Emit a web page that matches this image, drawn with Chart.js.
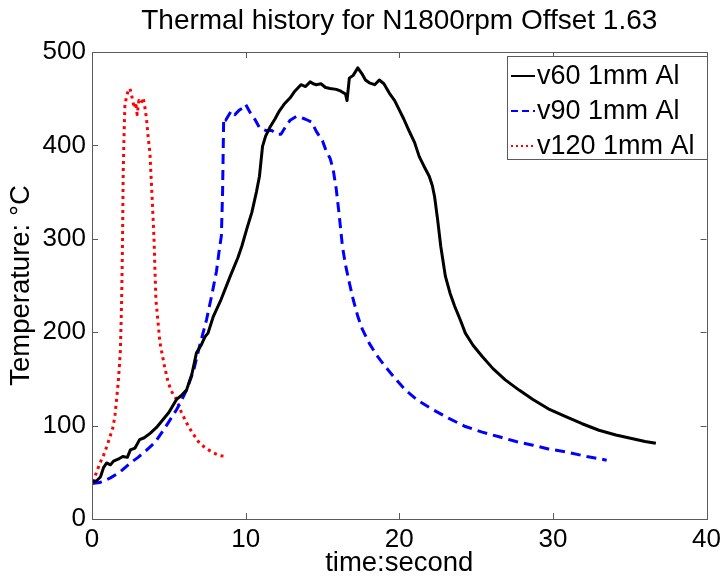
<!DOCTYPE html>
<html>
<head>
<meta charset="utf-8">
<script src="https://cdn.jsdelivr.net/npm/chart.js@4"></script>
<style>
  html, body { margin: 0; padding: 0; background: #fff; }
  #wrap { width: 726px; height: 580px; }
</style>
</head>
<body>
<div id="wrap"><canvas id="grafica" width="726" height="580"></canvas></div>
<script>
// Datos (tiempo en segundos, temperatura en °C)
const tiempoV60 = [0, 0.3, 0.55, 0.75, 0.95, 1.2, 1.4, 1.7, 2.0, 2.3, 2.5, 2.8, 3.1, 3.4, 3.8, 4.2, 4.6, 5.0, 5.5, 5.8, 6.15, 6.5, 6.8, 7.1, 7.35, 7.55, 7.9, 8.4, 9.0, 9.5, 9.75, 10.1, 10.4, 10.7, 10.9, 11.1, 11.3, 11.6, 11.9, 12.2, 12.5, 12.9, 13.2, 13.6, 13.9, 14.2, 14.4, 14.6, 14.9, 15.2, 15.5, 15.9, 16.2, 16.5, 16.6, 16.75, 17.0, 17.3, 17.6, 17.8, 18.05, 18.4, 18.7, 19.0, 19.35, 19.7, 20.0, 20.3, 20.6, 21.0, 21.3, 21.6, 21.95, 22.15, 22.3, 22.5, 22.7, 23.0, 23.3, 23.6, 24.0, 24.3, 24.8, 25.4, 26.1, 26.9, 27.8, 28.7, 29.7, 30.8, 31.9, 33.0, 34.1, 35.2, 36.0, 36.7];
const tempV60 = [40, 41, 45, 55, 60, 58, 62, 64, 67, 66, 74, 76, 85, 87, 92, 98, 106, 114, 128, 132, 138, 155, 178, 186, 195, 199, 217, 235, 260, 280, 292, 312, 328, 350, 367, 399, 410, 420, 428, 437, 444, 451, 458, 465, 463, 468, 466, 465, 466, 462, 461, 460, 458, 455, 448, 472, 475, 483, 476, 470, 467, 465, 470, 466, 456, 448, 438, 428, 417, 403, 388, 378, 367, 357, 345, 320, 292, 260, 242, 228, 212, 199, 186, 174, 161, 149, 138, 128, 118, 110, 102, 95, 90, 86, 83, 81];

const tiempoV90 = [0, 0.5, 1.2, 1.8, 2.5, 3.0, 3.5, 4.1, 4.6, 5.0, 5.5, 5.8, 6.15, 6.6, 7.0, 7.45, 7.8, 8.1, 8.3, 8.42, 8.5, 8.57, 8.7, 9.07, 9.3, 9.6, 9.8, 10.0, 10.3, 10.6, 10.9, 11.3, 11.7, 12.0, 12.3, 12.6, 12.9, 13.3, 13.6, 13.9, 14.3, 14.6, 15.0, 15.2, 15.5, 15.7, 15.9, 16.1, 16.3, 16.5, 16.75, 17.0, 17.3, 17.6, 18.05, 18.5, 19.1, 19.7, 20.4, 21.2, 22.2, 23.2, 24.3, 25.4, 26.5, 27.6, 28.7, 29.7, 30.8, 32.2, 33.5];
const tempV90 = [38, 39, 44, 50, 60, 66, 73, 82, 94, 104, 117, 126, 138, 158, 185, 213, 240, 265, 290, 303, 350, 429, 427, 437, 433, 438, 440, 444, 435, 428, 419, 416, 416, 412, 412, 420, 427, 431, 430, 428, 425, 415, 405, 396, 386, 374, 353, 324, 292, 272, 253, 235, 217, 203, 188, 176, 163, 151, 138, 127, 117, 108, 99, 93, 88, 83, 79, 75, 72, 67, 63];

const tiempoV120 = [0, 0.25, 0.52, 0.75, 0.95, 1.15, 1.38, 1.5, 1.6, 1.7, 1.78, 1.85, 1.93, 1.99, 2.03, 2.1, 2.14, 2.25, 2.35, 2.47, 2.6, 2.75, 2.85, 2.94, 3.05, 3.2, 3.33, 3.45, 3.55, 3.65, 3.77, 3.85, 3.94, 4.03, 4.1, 4.16, 4.3, 4.42, 4.7, 4.96, 5.2, 5.5, 5.8, 6.15, 6.5, 7.0, 7.4, 7.88, 8.3, 8.68];
const tempV120 = [40, 48, 60, 68, 77, 87, 99, 112, 128, 145, 163, 181, 235, 302, 370, 420, 442, 453, 458, 461, 452, 440, 446, 433, 448, 445, 451, 440, 428, 410, 392, 365, 335, 303, 265, 235, 210, 189, 165, 146, 136, 128, 115, 103, 93, 81, 76, 71, 68, 67];

const etiquetas = ['v60 1mm Al', 'v90 1mm Al', 'v120 1mm Al'];
const titulo = 'Thermal history for N1800rpm Offset 1.63';
const fuente = 'Arial, "Liberation Sans", sans-serif';

// Juntar x e y en puntos para el grafico
function puntos(tiempos, temps) {
    return tiempos.map((t, i) => ({ x: t, y: temps[i] }));
}

// Caja, marcas hacia adentro, titulo y leyenda estilo MATLAB
const marcoMatlab = {
    id: 'marcoMatlab',
    afterDraw(chart) {
        const { ctx, chartArea: { left, top, right, bottom }, scales: { x, y } } = chart;
        ctx.save();
        ctx.strokeStyle = '#5a5a5a';
        ctx.lineWidth = 1;
        ctx.strokeRect(Math.round(left) + 0.5, Math.round(top) + 0.5, Math.round(right - left), Math.round(bottom - top));
        ctx.beginPath();
        x.ticks.forEach(t => {
            const px = Math.round(x.getPixelForValue(t.value)) + 0.5;
            ctx.moveTo(px, bottom); ctx.lineTo(px, bottom - 6);
            ctx.moveTo(px, top); ctx.lineTo(px, top + 6);
        });
        y.ticks.forEach(t => {
            const py = Math.round(y.getPixelForValue(t.value)) + 0.5;
            ctx.moveTo(left, py); ctx.lineTo(left + 6, py);
            ctx.moveTo(right, py); ctx.lineTo(right - 6, py);
        });
        ctx.stroke();

        // titulo
        ctx.fillStyle = '#000';
        ctx.font = '28px ' + fuente;
        ctx.textAlign = 'center';
        ctx.textBaseline = 'middle';
        ctx.fillText(titulo, (left + right) / 2, 21);

        // leyenda
        const lx = 507, ly = 56, lw = 200, lh = 103;
        ctx.fillStyle = '#fff';
        ctx.fillRect(lx, ly, lw, lh);
        ctx.strokeStyle = '#5a5a5a';
        ctx.strokeRect(lx + 0.5, ly + 0.5, lw, lh);
        ctx.textAlign = 'left';
        ctx.font = '27px ' + fuente;
        chart.data.datasets.forEach((ds, i) => {
            const fy = ly + 20 + i * 35;
            ctx.strokeStyle = ds.borderColor;
            ctx.lineWidth = 2;
            ctx.setLineDash(ds.borderDash.length ? (i === 2 ? [2, 3] : [7, 4]) : []);
            ctx.beginPath();
            ctx.moveTo(lx + 4, fy); ctx.lineTo(lx + 28, fy);
            ctx.stroke();
            ctx.setLineDash([]);
            ctx.fillStyle = '#000';
            ctx.fillText(ds.label, lx + 30, fy + 1);
        });
        ctx.restore();
    }
};

const ctx = document.getElementById('grafica').getContext('2d');
new Chart(ctx, {
    type: 'scatter',
    data: {
        datasets: [
            { label: etiquetas[0], data: puntos(tiempoV60, tempV60), borderColor: '#000000', borderWidth: 3, borderDash: [] },
            { label: etiquetas[1], data: puntos(tiempoV90, tempV90), borderColor: '#0000ff', borderWidth: 3, borderDash: [10, 6] },
            { label: etiquetas[2], data: puntos(tiempoV120, tempV120), borderColor: '#ff0000', borderWidth: 3, borderDash: [3, 4] }
        ]
    },
    options: {
        responsive: false,
        animation: false,
        showLine: true,
        elements: { point: { radius: 0 }, line: { tension: 0, borderJoinStyle: 'round' } },
        layout: { padding: { top: 52, right: 17, left: 0, bottom: 0 } },
        plugins: { legend: { display: false }, tooltip: { enabled: false } },
        scales: {
            x: {
                type: 'linear', min: 0, max: 40,
                ticks: { stepSize: 10, color: '#000', font: { size: 26, family: fuente }, padding: 5, maxRotation: 0 },
                grid: { display: false, drawTicks: false },
                border: { display: false },
                title: { display: true, text: 'time:second', color: '#000', font: { size: 27.5, family: fuente }, padding: { top: 0, bottom: 0 } },
                afterFit: s => { s.height = 61; }
            },
            y: {
                type: 'linear', min: 0, max: 500,
                ticks: { stepSize: 100, color: '#000', font: { size: 26, family: fuente }, padding: 6 },
                grid: { display: false, drawTicks: false },
                border: { display: false },
                title: { display: true, text: 'Temperature: °C', color: '#000', font: { size: 27.5, family: fuente }, padding: { top: 5, bottom: 0 } },
                afterFit: s => { s.width = 92; }
            }
        }
    },
    plugins: [marcoMatlab]
});
</script>
</body>
</html>
